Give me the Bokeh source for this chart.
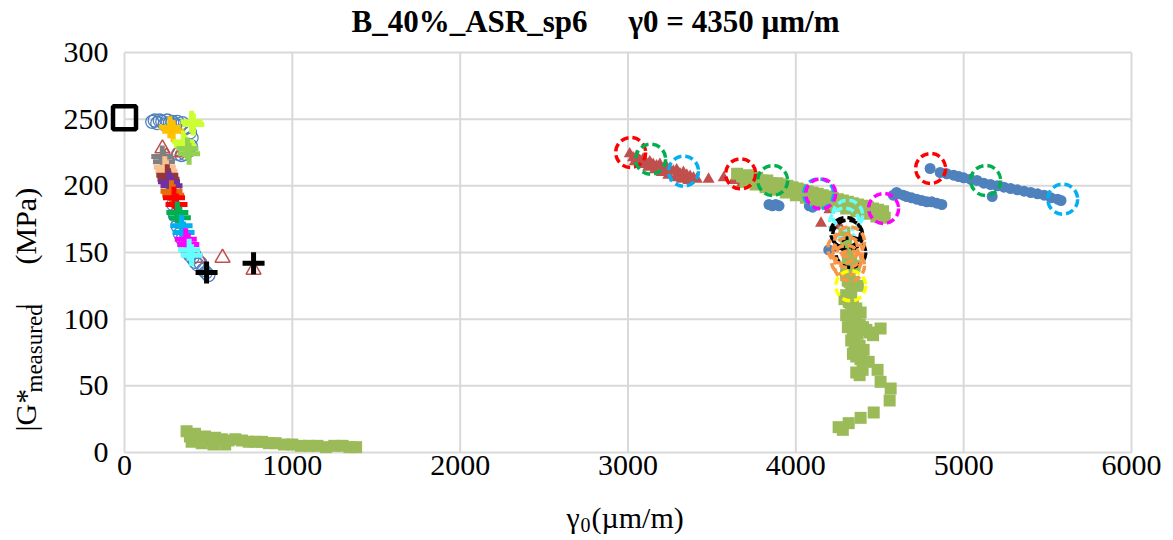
import math
from bokeh.plotting import figure
from bokeh.models import Range1d, Label, FixedTicker
from bokeh.embed import file_html
from bokeh.resources import INLINE

# ---------------- data ----------------
# left cluster: open blue circles
circ_open_x = [165, 180, 195, 210, 225, 240, 255, 270, 285, 300, 315, 330, 345, 360, 375, 390, 400, 395,
               380, 360, 340, 320, 300, 290, 300, 315, 330, 345, 360, 375, 390, 405, 420, 435, 453, 470, 485, 500]
circ_open_y = [248, 249, 247, 249, 248, 246, 249, 247, 248, 246, 248, 245, 247, 243, 244, 240, 236, 230,
               226, 224, 223, 224, 196, 186, 178, 170, 164, 160, 156, 152, 148, 146, 143, 141, 142, 137, 135, 133]
# open triangles
tri_open_x = [226, 250, 316, 346, 441, 584, 769]
tri_open_y = [228, 222, 225, 226, 146, 146, 137]
# open black square
sq_open_x = [0]
sq_open_y = [251]
# plus markers (colour -> points)
plus_colors = ["#FFC000", "#CCFF33", "#92D050", "#808080", "#FAC090", "#953735", "#7030A0",
               "#E46C0A", "#FF0000", "#00B050", "#00B0F0", "#FF00FF", "#66FFFF", "#000000"]
plus_x = [[270, 290], [400, 410, 350, 360], [375, 385], [225, 235], [240, 250], [255, 262], [265, 280],
          [280, 290], [295, 310], [315, 330], [340, 352], [365, 380], [385, 400], [489, 769]]
plus_y = [[244, 241], [248, 246, 233, 230], [228, 224], [222, 218], [214, 211], [208, 205], [203, 200],
          [196, 193], [191, 186], [180, 176], [170, 165], [160, 156], [152, 148], [135, 142]]

# filled red-brown triangles
tri_x = [3010, 3030, 3050, 3070, 3090, 3110, 3130, 3150, 3170, 3190, 3210, 3230, 3250, 3270, 3290,
         3310, 3330, 3350, 3370, 3390, 3410, 3040, 3080, 3120, 3160, 3200, 3240, 3280, 3320, 3360,
         3480, 3570, 3630, 3680, 3730, 3780, 3830, 3880, 3930, 3980, 4150, 4200, 4260]
tri_y = [224, 221, 222, 219, 220, 217, 218, 216, 215, 216, 213, 214, 212, 211, 212,
         209, 210, 208, 207, 206, 205, 218, 216, 214, 212, 210, 208, 206, 205, 204,
         205, 206, 204, 202, 201, 200, 199, 198, 197, 196, 172, 182, 170]

# filled green squares
sqg_x = [3650, 3680, 3710, 3740, 3770, 3800, 3830, 3860, 3890, 3920, 3950, 3980, 4010, 4040, 4070,
         4100, 4130, 4160, 4190, 4220, 4250, 4280, 4310, 4340, 4370, 4400, 4430, 4460, 4490, 4520,
         3700, 3760, 3820, 3880, 3940, 4000, 4060, 4120, 4180, 4240, 4300, 4360, 4420, 4480, 4530,
         4290, 4300, 4310, 4320, 4300, 4320, 4330, 4300, 4340, 4309, 4327, 4386, 4327, 4505, 4368,
         4404, 4434, 4398, 4487, 4505, 4565, 4559, 4464, 4386, 4315, 4255, 4280,
         4310, 4330, 4350, 4300, 4320, 4345, 4370, 4290, 4315, 4340, 4360, 4300, 4330, 4355, 4380,
         4310, 4340, 4365, 4330, 4350, 4380, 4340, 4360, 4385, 4360, 4380, 4400, 4420, 4440, 4460,
         370, 390, 420, 450, 480, 510, 540, 580, 620, 660, 700, 740, 780, 820, 860, 900, 950,
         1000, 1050, 1100, 1150, 1200, 1250, 1300, 1340, 1380, 400, 460, 530, 600]
sqg_y = [209, 207, 208, 206, 206, 204, 204, 202, 202, 201, 200, 199, 198, 197, 196,
         195, 194, 193, 192, 191, 190, 189, 188, 187, 186, 185, 184, 183, 182, 181,
         203, 201, 199, 197, 195, 193, 191, 189, 187, 185, 183, 181, 179, 177, 176,
         165, 158, 150, 140, 135, 128, 120, 118, 110, 129, 112, 105, 98, 93, 89,
         77, 68, 62, 62, 53, 48, 39, 30, 26, 22, 19, 17,
         145, 143, 140, 133, 131, 128, 125, 115, 113, 110, 108, 103, 101, 99, 96,
         94, 92, 90, 84, 82, 80, 74, 72, 70, 60, 58, 94, 92, 90, 88,
         16, 12, 14, 10, 12, 9, 11, 10, 9, 10, 9, 8, 8, 8, 7, 7, 6,
         6, 5, 5, 5, 4, 5, 5, 4, 4, 8, 7, 6, 6]

# filled blue circles
circ_x = [3840, 3860, 3880, 3900, 4080, 4100, 4130, 4196,
          4580, 4600, 4610, 4640, 4660, 4690, 4720, 4750, 4780, 4810, 4840, 4870,
          4800, 4860, 4900, 4940, 4970, 5000, 5040, 5080, 5120, 5160, 5200, 5240, 5280, 5320,
          5360, 5400, 5440, 5480, 5520, 5560, 5580, 5170]
circ_y = [186, 185, 186, 185, 185, 184, 186, 152,
          193, 195, 194, 193, 192, 191, 190, 189, 188, 188, 187, 186,
          213, 210, 209, 208, 207, 206, 205, 204, 202, 201, 200, 199, 198, 197,
          196, 195, 194, 193, 191, 190, 189, 192]

# dashed circles (colour -> points)
dash_colors = ["#FF0000", "#00B050", "#00B0F0", "#FF00FF", "#66FFFF", "#000000", "#F79646", "#FFFF00"]
dash_x = [[3016, 3671, 4803], [3135, 3862, 5131], [3331, 4136, 5590], [4148, 4523],
          [4309, 4290], [4297, 4309, 4327], [4280, 4309, 4320, 4300, 4320], [4327]]
dash_y = [[225, 209, 213], [220, 204, 204], [211, 194, 190], [194, 183],
          [178, 172], [165, 163, 150], [153, 150, 158, 144, 140], [125]]

x_ticks = [0, 1000, 2000, 3000, 4000, 5000, 6000]
y_ticks = [0, 50, 100, 150, 200, 250, 300]
title_left = "B_40%_ASR_sp6"
title_right = "γ0 = 4350 µm/m"

# ---------------- layout geometry (canvas pixels) ----------------
W, H = 1168, 538
X0_PX, X1_PX = 124, 1131      # x = 0 and x = 6000
Y0_PX, Y1_PX = 452, 52        # y = 0 and y = 300
sx = (X1_PX - X0_PX) / 6000.0
sy = (Y0_PX - Y1_PX) / 300.0


def px2x(px):
    return (px - X0_PX) / sx


def py2y(py):
    return (Y0_PX - py) / sy


FONT = "Liberation Serif"
p = figure(width=W, height=H, min_border=0,
           x_range=Range1d(px2x(0), px2x(W)), y_range=Range1d(py2y(H), py2y(0)),
           output_backend="svg", toolbar_location=None)
p.outline_line_color = None
p.background_fill_color = "white"
p.border_fill_color = "white"
p.xgrid.visible = False
p.ygrid.visible = False

# grid lines over the data area
p.segment(x0=x_ticks, y0=[0] * len(x_ticks), x1=x_ticks, y1=[300] * len(x_ticks),
          line_color="#D9D9D9", line_width=2)
p.segment(x0=[0] * len(y_ticks), y0=y_ticks, x1=[6000] * len(y_ticks), y1=y_ticks,
          line_color="#D9D9D9", line_width=2)

for ax in (p.xaxis, p.yaxis):
    ax.fixed_location = 0
    ax.axis_line_color = None
    ax.major_tick_line_color = None
    ax.minor_tick_line_color = None
    ax.major_tick_out = 0
    ax.major_tick_in = 0
    ax.major_label_text_font = FONT
    ax.major_label_text_font_size = "30px"
    ax.major_label_text_color = "#000000"
p.xaxis.ticker = FixedTicker(ticks=x_ticks)
p.yaxis.ticker = FixedTicker(ticks=y_ticks)
p.xaxis.major_label_standoff = 3
p.yaxis.major_label_standoff = 16

# left cluster
p.scatter(circ_open_x, circ_open_y, marker="circle", size=13, fill_color=None,
          line_color="#4F81BD", line_width=1.3)
p.scatter(tri_open_x, tri_open_y, marker="triangle", size=15, fill_color=None,
          line_color="#C0504D", line_width=1.5)
p.scatter(sq_open_x, sq_open_y, marker="square", size=23, fill_color=None,
          line_color="#000000", line_width=4.5)

# right cluster filled
p.scatter(tri_x, tri_y, marker="triangle", size=12, fill_color="#C0504D", line_color=None)
p.scatter(circ_x, circ_y, marker="circle", size=11, fill_color="#4F81BD", line_color=None)
p.scatter(sqg_x, sqg_y, marker="square", size=12, fill_color="#9BBB59", line_color=None)

for c, xs, ys in zip(plus_colors, plus_x, plus_y):
    p.scatter(xs, ys, marker="cross", size=22, line_color=c, line_width=5)

for c, xs, ys in zip(dash_colors, dash_x, dash_y):
    p.scatter(xs, ys, marker="circle", size=30, fill_color=None, line_color=c,
              line_width=3.5, line_dash="8 4")

lab = dict(text_font=FONT, text_color="#000000", text_baseline="alphabetic")
# title (label baselines render ~0.38em lower than the anchor; anchors compensate)
p.add_layout(Label(x=px2x(587), y=py2y(21), text=title_left, text_font_size="31px",
                   text_font_style="bold", text_align="right", **lab))
p.add_layout(Label(x=px2x(628), y=py2y(21), text=title_right, text_font_size="31px",
                   text_font_style="bold", text_align="left", **lab))
# x label: γ0(µm/m)
p.add_layout(Label(x=px2x(566), y=py2y(517), text="γ", text_font_size="30px",
                   text_align="left", **lab))
p.add_layout(Label(x=px2x(580), y=py2y(524), text="0", text_font_size="20px",
                   text_align="left", **lab))
p.add_layout(Label(x=px2x(591), y=py2y(517), text="(µm/m)", text_font_size="30px",
                   text_align="left", **lab))
# y label: |G*measured| (MPa)
p.add_layout(Label(x=px2x(25), y=py2y(431), text="|G*", text_font_size="30px", angle=math.pi / 2,
                   text_align="left", **lab))
p.add_layout(Label(x=px2x(34), y=py2y(392), text="measured", text_font_size="23px", angle=math.pi / 2,
                   text_align="left", **lab))
p.add_layout(Label(x=px2x(25), y=py2y(309), text="|", text_font_size="30px", angle=math.pi / 2,
                   text_align="left", **lab))
p.add_layout(Label(x=px2x(25), y=py2y(264), text="(MPa)", text_font_size="30px", angle=math.pi / 2,
                   text_align="left", **lab))

open("out.html", "w").write(file_html(p, INLINE))
